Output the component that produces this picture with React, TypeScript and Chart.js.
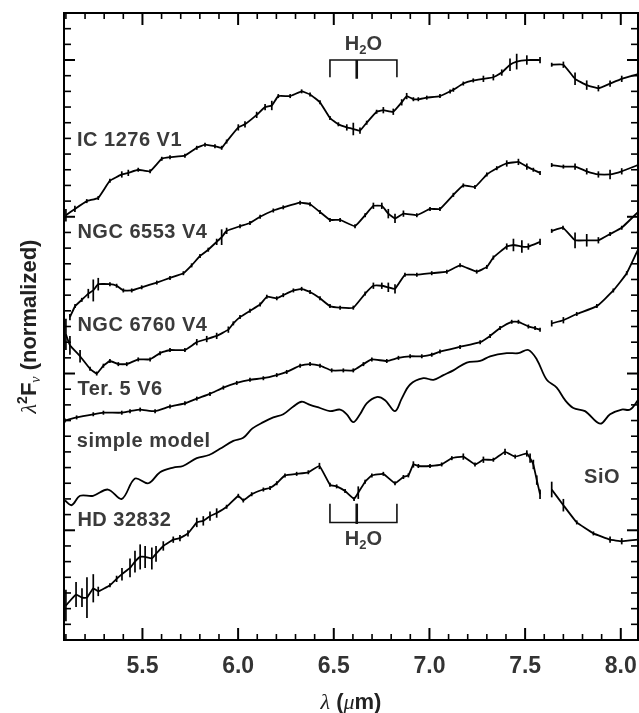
import React, { useEffect, useRef } from 'react';
import { Chart, registerables } from 'chart.js';

Chart.register(...registerables);

// ---------- axis ticks ----------
const xTickValues = [5.5, 6.0, 6.5, 7.0, 7.5, 8.0];

// ---------- IC 1276 V1 ----------
const ic1276X = [5.100,5.147,5.209,5.269,5.330,5.392,5.426,5.478,5.540,5.601,5.644,5.722,5.784,5.827,5.879,5.914,5.940,6.001,6.036,6.097,6.141,6.176,6.210,6.272,6.332,6.376,6.428,6.480,6.524,6.568,6.602,6.637,6.672,6.724,6.759,6.811,6.855,6.881,6.916,6.942,6.986,7.055,7.108,7.125,7.177,7.229,7.282,7.334,7.378,7.421,7.456,7.509,7.578,7.610,7.639,7.700,7.761,7.822,7.883,7.944,8.005,8.090];
const ic1276Y = [2.01,2.05,2.10,2.12,2.23,2.27,2.28,2.30,2.29,2.37,2.38,2.39,2.44,2.46,2.45,2.44,2.48,2.57,2.59,2.65,2.70,2.71,2.77,2.77,2.80,2.78,2.73,2.63,2.59,2.57,2.56,2.55,2.60,2.67,2.68,2.67,2.73,2.77,2.75,2.75,2.76,2.77,2.80,2.81,2.85,2.87,2.88,2.89,2.92,2.97,2.99,3.00,3.00,null,2.97,2.97,2.88,2.84,2.82,2.85,2.88,2.91];
const ic1276Err = [0.04,0.02,0.01,0,0.01,0.02,0.02,0.01,0,0.01,0.01,0.01,0.01,0.01,0.01,0,0.01,0.02,0.02,0.02,0.02,0.03,0.01,0.01,0.01,0,0,0,0.01,0.02,0.04,0.02,0,0.01,0.02,0.02,0.02,0.02,0.01,0.01,0.01,0.01,0.01,0.01,0.01,0.01,0.02,0.02,0.02,0.04,0.05,0.03,0.02,0,0.01,0.02,0.04,0.03,0.02,0.02,0.02,0];

// ---------- NGC 6553 V4 ----------
const ngc6553X = [5.121,5.148,5.183,5.217,5.243,5.269,5.330,5.365,5.400,5.444,5.496,5.575,5.644,5.714,5.757,5.801,5.844,5.888,5.914,5.940,6.010,6.062,6.115,6.184,6.236,6.324,6.376,6.428,6.480,6.533,6.611,6.664,6.707,6.751,6.785,6.820,6.864,6.934,7.003,7.055,7.125,7.177,7.238,7.300,7.352,7.404,7.465,7.509,7.543,7.578,7.610,7.639,7.700,7.761,7.822,7.883,7.944,8.005,8.090];
const ngc6553Y = [1.36,1.43,1.47,1.51,1.53,1.57,1.57,1.56,1.53,1.53,1.55,1.58,1.61,1.64,1.69,1.75,1.79,1.84,1.87,1.91,1.94,1.96,2.00,2.04,2.06,2.09,2.08,2.03,1.98,1.98,1.94,2.01,2.07,2.07,2.02,1.99,2.02,2.01,2.05,2.05,2.14,2.20,2.19,2.27,2.31,2.34,2.35,2.32,2.30,2.28,null,2.33,2.32,2.32,2.29,2.27,2.27,2.29,2.33];
const ngc6553Err = [0.02,0.01,0.01,0.03,0.07,0.04,0.01,0.01,0.01,0.01,0,0,0,0,0.01,0.01,0.01,0.02,0.05,0.02,0.01,0.01,0.01,0.01,0.01,0.01,0,0,0,0.01,0,0.01,0.02,0.02,0.03,0.03,0.02,0.01,0.01,0.01,0.01,0.01,0.01,0.01,0.01,0.02,0.02,0.02,0.01,0.01,0,0,0.01,0.02,0.02,0.02,0.03,0.02,0];

// ---------- NGC 6760 V4 ----------
const ngc6760X = [5.100,5.121,5.174,5.226,5.261,5.296,5.330,5.374,5.418,5.478,5.540,5.592,5.644,5.722,5.784,5.836,5.888,5.949,5.975,6.010,6.062,6.115,6.150,6.202,6.236,6.289,6.332,6.376,6.428,6.480,6.533,6.602,6.664,6.707,6.751,6.785,6.820,6.872,6.934,7.012,7.091,7.160,7.247,7.300,7.334,7.404,7.439,7.483,7.517,7.578,7.610,7.639,7.698,7.761,7.822,7.883,7.944,8.005,8.090];
const ngc6760Y = [1.25,1.18,1.11,1.03,1.00,1.05,1.08,1.06,1.06,1.09,1.09,1.13,1.15,1.15,1.20,1.22,1.24,1.28,1.32,1.36,1.40,1.44,1.49,1.48,1.50,1.53,1.54,1.52,1.48,1.43,1.42,1.42,1.51,1.56,1.56,1.55,1.54,1.63,1.63,1.64,1.65,1.69,1.65,1.68,1.74,1.81,1.82,1.81,1.81,1.84,null,1.91,1.93,1.85,1.85,1.85,1.89,1.93,2.03];
const ngc6760Err = [0.10,0.06,0.04,0,0,0.01,0.01,0.01,0.01,0.01,0.01,0.01,0,0.01,0.02,0.02,0.02,0.02,0.01,0.01,0.01,0.01,0.01,0.01,0.01,0.01,0.01,0.01,0,0.01,0.01,0.01,0.01,0.02,0.02,0.03,0.03,0.01,0.01,0.01,0.01,0,0,0.01,0.01,0.02,0.04,0.04,0.02,0.02,0,0.01,0.01,0.05,0.04,0.02,0.01,0.01,0];

// ---------- Ter. 5 V6 ----------
const ter5X = [5.095,5.156,5.243,5.296,5.392,5.435,5.488,5.566,5.644,5.722,5.784,5.853,5.923,5.993,6.062,6.132,6.202,6.254,6.324,6.376,6.428,6.489,6.550,6.602,6.655,6.699,6.777,6.838,6.899,6.960,7.012,7.055,7.160,7.265,7.317,7.369,7.430,7.465,7.517,7.552,7.578,7.610,7.639,7.700,7.770,7.875,7.961,8.031,8.090];
const ter5Y = [0.70,0.72,0.74,0.75,0.75,0.76,0.77,0.76,0.79,0.81,0.84,0.87,0.91,0.94,0.96,0.97,0.99,1.01,1.05,1.06,1.05,1.02,1.02,1.02,1.06,1.09,1.08,1.10,1.11,1.11,1.12,1.14,1.17,1.20,1.24,1.29,1.33,1.33,1.30,1.29,1.28,null,1.32,1.34,1.38,1.43,1.53,1.64,1.79];
const ter5Err = [0.01,0.01,0.01,0,0,0.01,0.01,0.01,0,0,0.01,0,0,0,0,0.01,0.01,0.01,0.01,0.01,0,0,0,0,0,0.01,0.01,0.01,0.01,0.01,0,0,0,0,0.01,0.01,0.01,0.01,0.01,0.01,0.01,0,0.02,0.02,0,0,0,0,0];

// ---------- simple model ----------
const modelX = [5.095,5.130,5.174,5.242,5.320,5.392,5.461,5.531,5.592,5.661,5.712,5.784,5.848,5.905,5.975,6.027,6.075,6.132,6.184,6.236,6.289,6.332,6.376,6.428,6.480,6.533,6.568,6.602,6.637,6.672,6.724,6.768,6.820,6.855,6.899,6.968,7.021,7.073,7.125,7.195,7.265,7.317,7.404,7.465,7.517,7.561,7.613,7.665,7.709,7.752,7.813,7.892,7.944,8.005,8.049,8.090];
const modelY = [0.19,0.16,0.22,0.22,0.26,0.20,0.33,0.30,0.37,0.40,0.41,0.46,0.48,0.52,0.57,0.59,0.65,0.69,0.72,0.74,0.79,0.82,0.80,0.78,0.76,0.77,0.74,0.69,0.74,0.81,0.85,0.83,0.76,0.84,0.93,0.97,0.96,0.99,1.02,1.07,1.08,1.11,1.13,1.13,1.15,1.09,0.96,0.91,0.83,0.78,0.76,0.68,0.74,0.77,0.77,0.83];

// ---------- HD 32832 ----------
const hd32832X = [5.100,5.153,5.184,5.210,5.243,5.269,5.330,5.365,5.393,5.435,5.461,5.488,5.514,5.549,5.571,5.609,5.661,5.696,5.738,5.784,5.818,5.853,5.888,5.940,6.001,6.027,6.071,6.132,6.167,6.202,6.245,6.306,6.367,6.425,6.480,6.515,6.559,6.606,6.628,6.664,6.699,6.759,6.820,6.864,6.890,6.916,6.942,7.003,7.064,7.117,7.177,7.238,7.282,7.334,7.395,7.448,7.509,7.526,7.543,7.561,7.578,7.610,7.639,7.700,7.770,7.857,7.944,8.005,8.090];
const hd32832Y = [-0.48,-0.41,-0.43,-0.43,-0.37,-0.39,-0.35,-0.31,-0.28,-0.24,-0.20,-0.17,-0.17,-0.18,-0.15,-0.10,-0.06,-0.05,-0.02,0.05,0.06,0.09,0.11,0.15,0.22,0.19,0.23,0.26,0.27,0.30,0.35,0.36,0.37,0.41,0.29,0.28,0.25,0.20,0.24,0.31,0.35,0.36,0.30,0.34,0.35,0.42,0.41,0.41,0.42,0.46,0.47,0.42,0.45,0.45,0.50,0.47,0.49,0.46,0.42,0.32,0.23,null,0.26,0.16,0.05,-0.02,-0.06,-0.07,-0.06];
const hd32832Err = [0.10,0.08,0.06,0.13,0.09,0.03,0.01,0.02,0.04,0.06,0.07,0.08,0.07,0.07,0.05,0.03,0.02,0.02,0.02,0.03,0.03,0.03,0.03,0.01,0.01,0.01,0.01,0,0,0.01,0,0.01,0.01,0.02,0,0.01,0,0.01,0.04,0,0.01,0.01,0.01,0.01,0.01,0.02,0.01,0.01,0.01,0.01,0.02,0.01,0.02,0.01,0.02,0.01,0.02,0.03,0.03,0.03,0.03,0,0.05,0.04,0,0,0.02,0.02,0];

// ---------- H2O brackets ----------
const bracketX = [6.48, 6.48, 6.83, 6.83];
const bracketCenterX = [6.62, 6.62];
const topBracketY = [2.89, 3.00, 3.00, 2.89];
const topBracketCenterY = [3.00, 2.88];
const bottomBracketY = [0.17, 0.05, 0.05, 0.17];
const bottomBracketCenterY = [0.04, 0.17];

// ---------- text annotations ----------
const curveLabels = [
  { text: 'IC 1276 V1', x: 5.158, y: 2.50 },
  { text: 'NGC 6553 V4', x: 5.16, y: 1.91 },
  { text: 'NGC 6760 V4', x: 5.16, y: 1.32 },
  { text: 'Ter. 5 V6', x: 5.16, y: 0.91 },
  { text: 'simple model', x: 5.157, y: 0.58 },
  { text: 'HD 32832', x: 5.16, y: 0.07 },
  { text: 'SiO', x: 7.808, y: 0.35 },
];
const h2oLabels = [
  { x: 6.655, y: 3.11 },
  { x: 6.655, y: -0.05 },
];

const SANS = '"Liberation Sans", Arial, Helvetica, sans-serif';
const SERIF = '"Liberation Serif", "DejaVu Serif", serif';
const TEXT_COLOR = '#3a3a3a';

function toPoints(xs: number[], ys: (number | null)[]) {
  return xs.map((x, i) => ({ x, y: ys[i] }));
}

type Seg = { t: string; font: string; dy?: number; color?: string };

function drawRich(ctx: CanvasRenderingContext2D, segs: Seg[], x: number, y: number, align: 'left' | 'center', spacing = 0) {
  (ctx as any).letterSpacing = spacing + 'px';
  let total = 0;
  const widths = segs.map((s) => {
    ctx.font = s.font;
    const w = ctx.measureText(s.t).width;
    total += w;
    return w;
  });
  let cx = align === 'center' ? x - total / 2 : x;
  ctx.textAlign = 'left';
  ctx.textBaseline = 'alphabetic';
  segs.forEach((s, i) => {
    ctx.font = s.font;
    if (s.color) ctx.fillStyle = s.color;
    ctx.fillText(s.t, cx, y + (s.dy || 0));
    cx += widths[i];
  });
  (ctx as any).letterSpacing = '0px';
}

const errorBarPlugin = {
  id: 'errorBars',
  afterDatasetsDraw(chart: any) {
    const { ctx, chartArea: a } = chart;
    const xs = chart.scales.x;
    const ys = chart.scales.y;
    ctx.save();
    ctx.beginPath();
    ctx.rect(a.left, a.top, a.right - a.left, a.bottom - a.top);
    ctx.clip();
    ctx.strokeStyle = '#000';
    ctx.lineWidth = 1.7;
    chart.data.datasets.forEach((ds: any) => {
      if (!ds.errors) return;
      ds.data.forEach((p: any, i: number) => {
        const e = ds.errors[i] || 0;
        if (p.y === null || p.y === undefined) return;
        const half = Math.max(2, Math.abs(ys.getPixelForValue(p.y + e) - ys.getPixelForValue(p.y)));
        const px = xs.getPixelForValue(p.x);
        const py = ys.getPixelForValue(p.y);
        ctx.beginPath();
        ctx.moveTo(px, py - half);
        ctx.lineTo(px, py + half);
        ctx.stroke();
      });
    });
    ctx.restore();
  },
};

const framePlugin = {
  id: 'frameTicks',
  afterDraw(chart: any) {
    const { ctx, chartArea: a } = chart;
    const xs = chart.scales.x;
    const ys = chart.scales.y;
    ctx.save();
    ctx.strokeStyle = '#000';
    const seg = (x1: number, y1: number, x2: number, y2: number) => {
      ctx.beginPath();
      ctx.moveTo(x1, y1);
      ctx.lineTo(x2, y2);
      ctx.stroke();
    };
    for (let k = Math.ceil(xs.min * 10 - 1e-6); k <= Math.floor(xs.max * 10 + 1e-6); k++) {
      const px = xs.getPixelForValue(k / 10);
      const major = k % 5 === 0;
      const len = major ? 12 : 6;
      ctx.lineWidth = major ? 2 : 1.6;
      seg(px, a.bottom, px, a.bottom - len);
      seg(px, a.top, px, a.top + len);
    }
    for (let k = Math.ceil(ys.min * 10 - 1e-6); k <= Math.floor(ys.max * 10 + 1e-6); k++) {
      const py = ys.getPixelForValue(k / 10);
      const major = k % 10 === 0;
      const len = major ? 11 : 7;
      ctx.lineWidth = major ? 2 : 1.6;
      seg(a.left, py, a.left + len, py);
      seg(a.right, py, a.right - len, py);
    }
    ctx.lineWidth = 2;
    ctx.strokeRect(a.left, a.top, a.right - a.left, a.bottom - a.top);
    ctx.restore();
  },
};

const textPlugin = {
  id: 'textLabels',
  afterDraw(chart: any) {
    const { ctx, chartArea: a } = chart;
    const xs = chart.scales.x;
    const ys = chart.scales.y;
    ctx.save();
    ctx.fillStyle = TEXT_COLOR;
    const size = 20;
    curveLabels.forEach((l) => {
      drawRich(ctx, [{ t: l.text, font: `bold ${size}px ${SANS}` }], xs.getPixelForValue(l.x), ys.getPixelForValue(l.y) + 0.358 * size, 'left', 0.5);
    });
    h2oLabels.forEach((l) => {
      drawRich(
        ctx,
        [
          { t: 'H', font: `bold ${size}px ${SANS}` },
          { t: '2', font: `bold 13px ${SANS}`, dy: 4 },
          { t: 'O', font: `bold ${size}px ${SANS}` },
        ],
        xs.getPixelForValue(l.x),
        ys.getPixelForValue(l.y) + 0.358 * size,
        'center'
      );
    });
    // x axis title
    ctx.fillStyle = '#222';
    const cx = (a.left + a.right) / 2;
    drawRich(
      ctx,
      [
        { t: 'λ', font: `italic 22px ${SERIF}` },
        { t: ' (', font: `bold 22px ${SANS}` },
        { t: 'μ', font: `italic 22px ${SERIF}` },
        { t: 'm)', font: `bold 22px ${SANS}` },
      ],
      cx,
      a.bottom + 61 + 0.358 * 22,
      'center'
    );
    // y axis title
    ctx.save();
    ctx.translate(28 + 0.358 * 22, (a.top + a.bottom) / 2);
    ctx.rotate(-Math.PI / 2);
    drawRich(
      ctx,
      [
        { t: 'λ', font: `italic 22px ${SERIF}` },
        { t: '2', font: `bold 14px ${SANS}`, dy: -9 },
        { t: 'F', font: `bold 22px ${SANS}` },
        { t: 'ν', font: `italic 14px ${SERIF}`, dy: 4 },
        { t: ' (normalized)', font: `bold 22px ${SANS}` },
      ],
      0,
      0,
      'center'
    );
    ctx.restore();
    ctx.restore();
  },
};

function spectrum(xs: number[], ys: (number | null)[], errs: number[] | null, tension: number) {
  return {
    data: toPoints(xs, ys),
    errors: errs,
    borderColor: '#000',
    borderWidth: 1.8,
    pointRadius: 0,
    tension,
    spanGaps: false,
    fill: false,
  };
}

function bracket(xs: number[], ys: number[], width: number) {
  return {
    data: toPoints(xs, ys),
    borderColor: '#111',
    borderWidth: width,
    pointRadius: 0,
    tension: 0,
    fill: false,
  };
}

export default function App() {
  const ref = useRef<HTMLCanvasElement | null>(null);
  useEffect(() => {
    if (!ref.current) return;
    const chart = new Chart(ref.current, {
      type: 'line',
      data: {
        datasets: [
          spectrum(ic1276X, ic1276Y, ic1276Err, 0.1),
          spectrum(ngc6553X, ngc6553Y, ngc6553Err, 0.1),
          spectrum(ngc6760X, ngc6760Y, ngc6760Err, 0.1),
          spectrum(ter5X, ter5Y, ter5Err, 0.15),
          spectrum(modelX, modelY, null, 0.35),
          spectrum(hd32832X, hd32832Y, hd32832Err, 0.1),
          bracket(bracketX, topBracketY, 1.6),
          bracket(bracketCenterX, topBracketCenterY, 2.6),
          bracket(bracketX, bottomBracketY, 1.6),
          bracket(bracketCenterX, bottomBracketCenterY, 2.6),
        ] as any,
      },
      options: {
        responsive: false,
        animation: false,
        layout: { padding: { top: 13, right: 1, left: 0, bottom: 0 } },
        plugins: { legend: { display: false }, tooltip: { enabled: false } },
        scales: {
          x: {
            type: 'linear',
            min: 5.09,
            max: 8.09,
            afterBuildTicks: (s: any) => {
              s.ticks = xTickValues.map((v) => ({ value: v }));
            },
            afterFit: (s: any) => {
              s.height = 73;
              s.paddingLeft = 0;
              s.paddingRight = 0;
            },
            grid: { display: false, drawTicks: false },
            border: { display: false },
            ticks: {
              callback: (v: any) => Number(v).toFixed(1),
              font: { family: SANS, size: 23, weight: 'bold' },
              color: '#333',
              padding: 13,
              maxRotation: 0,
              autoSkip: false,
            },
          },
          y: {
            type: 'linear',
            min: -0.7,
            max: 3.3,
            afterFit: (s: any) => {
              s.width = 64;
              s.paddingTop = 0;
              s.paddingBottom = 0;
            },
            grid: { display: false, drawTicks: false },
            border: { display: false },
            ticks: { display: false },
          },
        },
      } as any,
      plugins: [errorBarPlugin, framePlugin, textPlugin],
    });
    return () => chart.destroy();
  }, []);
  return (
    <div style={{ position: 'absolute', left: 0, top: 0, width: 639, height: 713, background: '#fff' }}>
      <canvas ref={ref} width={639} height={713} style={{ width: 639, height: 713, display: 'block' }} />
    </div>
  );
}
